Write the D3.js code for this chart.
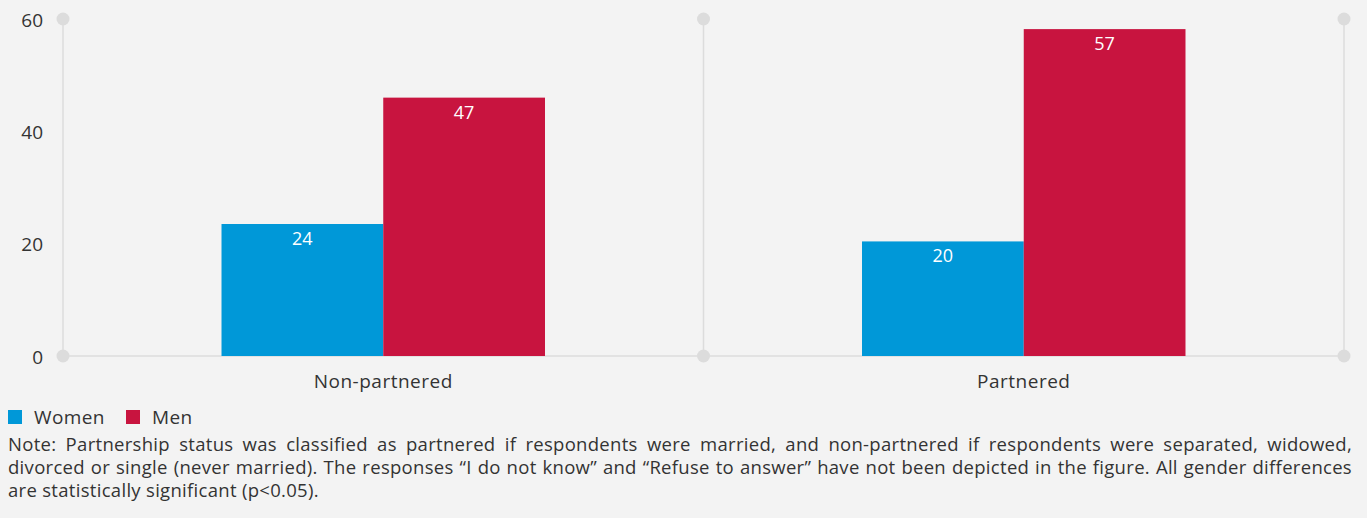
<!DOCTYPE html>
<html>
<head>
<meta charset="utf-8">
<script src="https://cdn.jsdelivr.net/npm/d3@7"></script>
<style>
    body { margin: 0; background: #f3f3f3; font-family: "Open Sans", Lato, sans-serif; color: #333; }
    #chart { position: relative; width: 1367px; height: 518px; }
    .note { position: absolute; left: 8px; top: 432px; width: 1344px; font-size: 18.5px; letter-spacing: 0.3px; line-height: 23px; color: #333; }
    .note div { text-align: justify; text-align-last: justify; white-space: nowrap; }
    .note div.last { text-align-last: left; }
</style>
</head>
<body>
<div id="chart"></div>
<script>
const categories = ["Non-partnered", "Partnered"];
const seriesNames = ["Women", "Men"];
const seriesColors = ["#0098d8", "#c8143f"];
// bar heights as drawn, and the labels printed on them
const women = [23.5, 20.4];
const men = [46, 58.2];
const womenLabels = ["24", "20"];
const menLabels = ["47", "57"];
const yTicks = [0, 20, 40, 60];
const noteLines = [
    "Note: Partnership status was classified as partnered if respondents were married, and non-partnered if respondents were separated, widowed,",
    "divorced or single (never married). The responses \u201cI do not know\u201d and \u201cRefuse to answer\u201d have not been depicted in the figure. All gender differences",
    "are statistically significant (p<0.05)."
];

const width = 1367;
const height = 518;
const margin = { top: 19, left: 63, right: 23, bottom: 162 };
const font = "'Open Sans', Lato, sans-serif";

const svg = d3.select("#chart")
    .append("svg")
    .attr("width", width)
    .attr("height", height);

const data = categories.map(function (c, i) {
    return { cat: c, values: [women[i], men[i]], labels: [womenLabels[i], menLabels[i]] };
});

const xScale = d3.scaleBand()
    .domain(categories)
    .range([margin.left, width - margin.right]);

const xInner = d3.scaleBand()
    .domain(seriesNames)
    .range([0, xScale.bandwidth()])
    .paddingOuter(0.98)
    .paddingInner(0);

const yScale = d3.scaleLinear()
    .domain([0, 60])
    .range([height - margin.bottom, margin.top]);

const grid = "#dcdcdc";

// vertical category dividers with dots
const dividers = [margin.left, margin.left + xScale.bandwidth(), width - margin.right];
svg.selectAll(".vline")
    .data(dividers)
    .enter()
    .append("line")
    .attr("x1", d => d).attr("x2", d => d)
    .attr("y1", yScale(60)).attr("y2", yScale(0))
    .attr("stroke", grid).attr("stroke-width", 1.5);

svg.append("line")
    .attr("x1", margin.left).attr("x2", width - margin.right)
    .attr("y1", yScale(0)).attr("y2", yScale(0))
    .attr("stroke", grid).attr("stroke-width", 1.5);

dividers.forEach(function (x) {
    [60, 0].forEach(function (v) {
        svg.append("circle")
            .attr("cx", x).attr("cy", yScale(v))
            .attr("r", 6.5)
            .attr("fill", grid);
    });
});

// y axis labels
const yAxis = svg.append("g")
    .attr("transform", `translate(${margin.left - 20},1)`)
    .call(d3.axisLeft(yScale).tickValues(yTicks).tickSize(0).tickPadding(0));
yAxis.select(".domain").remove();
yAxis.selectAll("text")
    .attr("font-family", font)
    .attr("font-size", 19)
    .attr("fill", "#333");

// x axis labels
const xAxis = svg.append("g")
    .attr("transform", `translate(0,${yScale(0) + 18})`)
    .call(d3.axisBottom(xScale).tickSize(0).tickPadding(0));
xAxis.select(".domain").remove();
xAxis.selectAll("text")
    .attr("font-family", font)
    .attr("font-size", 19)
    .attr("letter-spacing", 0.5)
    .attr("fill", "#333");

// bars
const groups = svg.selectAll(".grp")
    .data(data)
    .enter()
    .append("g")
    .attr("transform", d => `translate(${xScale(d.cat)},0)`);

groups.selectAll("rect")
    .data(d => d.values.map((v, i) => ({ name: seriesNames[i], v: v, label: d.labels[i], i: i })))
    .enter()
    .append("rect")
    .attr("x", d => xInner(d.name))
    .attr("y", d => yScale(d.v))
    .attr("width", xInner.bandwidth())
    .attr("height", d => yScale(0) - yScale(d.v))
    .attr("fill", d => seriesColors[d.i]);

groups.selectAll(".lbl")
    .data(d => d.values.map((v, i) => ({ name: seriesNames[i], v: v, label: d.labels[i] })))
    .enter()
    .append("text")
    .attr("x", d => xInner(d.name) + xInner.bandwidth() / 2)
    .attr("y", d => yScale(d.v) + 21)
    .attr("text-anchor", "middle")
    .attr("font-family", font)
    .attr("font-size", 18)
    .attr("fill", "white")
    .text(d => d.label);

// legend
const legend = svg.append("g").attr("transform", "translate(8,410)");
const legendX = [0, 118];
seriesNames.forEach(function (s, i) {
    legend.append("rect")
        .attr("x", legendX[i]).attr("y", 0)
        .attr("width", 14).attr("height", 14)
        .attr("fill", seriesColors[i]);
    legend.append("text")
        .attr("x", legendX[i] + 26).attr("y", 14)
        .attr("font-family", font)
        .attr("font-size", 19)
        .attr("letter-spacing", 0.4)
        .attr("fill", "#333")
        .text(s);
});

const note = d3.select("#chart").append("div")
    .attr("class", "note");
note.selectAll("div")
    .data(noteLines)
    .enter()
    .append("div")
    .attr("class", (d, i) => i === noteLines.length - 1 ? "last" : null)
    .text(d => d);
</script>
</body>
</html>
